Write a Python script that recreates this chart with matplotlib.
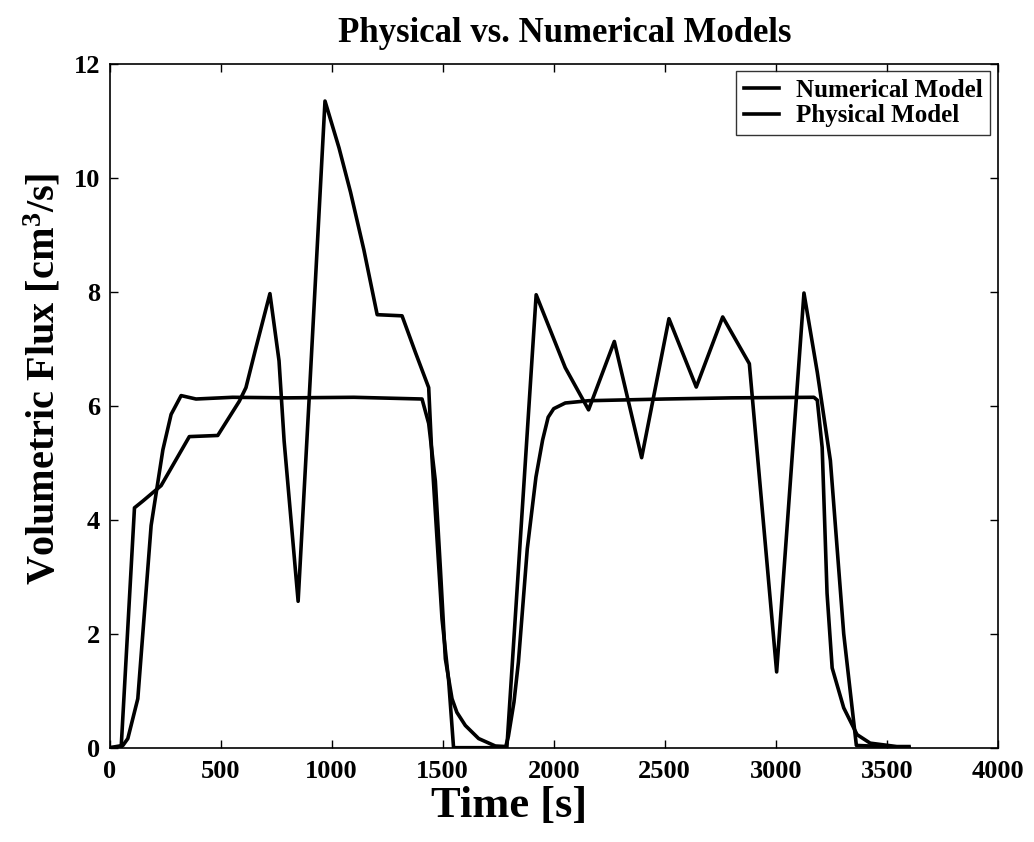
import matplotlib
matplotlib.use("Agg")
import matplotlib.pyplot as plt

plt.rcParams['font.family'] = ['Liberation Serif', 'DejaVu Serif']
plt.rcParams['font.weight'] = 'bold'
plt.rcParams['mathtext.fontset'] = 'custom'
plt.rcParams['mathtext.rm'] = 'Liberation Serif:bold'
plt.rcParams['mathtext.it'] = 'Liberation Serif:bold'
plt.rcParams['mathtext.bf'] = 'Liberation Serif:bold'

# Numerical model (smooth response)
t_num = [0, 60, 82, 127, 187, 240, 277, 322, 389, 554, 800, 1100, 1407, 1437, 1467,
         1490, 1512, 1542, 1564, 1602, 1662, 1737, 1784, 1796, 1821, 1841, 1881, 1920,
         1950, 1975, 2000, 2052, 2157, 2500, 2800, 3172, 3187, 3209, 3231, 3254, 3306,
         3366, 3425, 3545, 3600]
q_num = [0, 0.04, 0.16, 0.86, 3.9, 5.23, 5.85, 6.18, 6.12, 6.15, 6.14, 6.15, 6.12, 5.69,
         4.68, 3.12, 1.56, 0.86, 0.62, 0.39, 0.16, 0.03, 0.02, 0.2, 0.8, 1.5, 3.49,
         4.75, 5.4, 5.8, 5.95, 6.05, 6.09, 6.12, 6.14, 6.15, 6.1, 5.27, 2.71, 1.4,
         0.7, 0.23, 0.08, 0.02, 0.02]

# Physical model (measured)
t_phys = [0, 52, 112, 150, 232, 359, 487, 584, 614, 659, 722, 763, 786, 849, 898, 970,
          1033, 1085, 1145, 1205, 1317, 1377, 1437, 1452, 1497, 1527, 1549, 1789, 1921,
          2052, 2157, 2273, 2396, 2519, 2642, 2761, 2881, 3004, 3127, 3187, 3246, 3306,
          3363, 3600]
q_phys = [0, 0, 4.21, 4.33, 4.6, 5.46, 5.48, 6.08, 6.32, 7.02, 7.97, 6.79, 5.38, 2.57,
          6.08, 11.35, 10.53, 9.75, 8.74, 7.6, 7.58, 6.94, 6.32, 5.07, 2.26, 1.17, 0,
          0, 7.95, 6.67, 5.93, 7.13, 5.09, 7.53, 6.33, 7.56, 6.74, 1.33, 7.98, 6.59,
          5.04, 2.0, 0.04, 0]

fig = plt.figure(figsize=(10.34, 8.42), dpi=100)
ax = fig.add_axes([0.106, 0.112, 0.859, 0.812])

ax.plot(t_num, q_num, color='black', lw=2.6, label='Numerical Model')
ax.plot(t_phys, q_phys, color='black', lw=2.6, label='Physical Model')

ax.set_xlim(0, 4000)
ax.set_ylim(0, 12)
ax.set_xticks(range(0, 4001, 500))
ax.set_yticks(range(0, 13, 2))
ax.tick_params(direction='in', top=True, right=True, length=6, width=1,
               labelsize=19)
ax.tick_params(axis='x', pad=9)
ax.tick_params(axis='y', pad=7)
for lab in ax.get_xticklabels() + ax.get_yticklabels():
    lab.set_fontweight('bold')
for sp in ax.spines.values():
    sp.set_linewidth(1.2)

ax.set_title('Physical vs. Numerical Models', fontsize=25, fontweight='bold',
             x=0.512, pad=16)
ax.set_xlabel('Time [s]', fontsize=32, fontweight='bold')
ax.xaxis.set_label_coords(0.45, -0.056)
ax.set_ylabel('Volumetric Flux [cm$^3$/s]', fontsize=29, fontweight='bold')
ax.yaxis.set_label_coords(-0.052, 0.54)

leg = ax.legend(loc='upper right', fontsize=18, fancybox=False, edgecolor='black',
                handlelength=1.4, handletextpad=0.7, borderpad=0.3,
                labelspacing=0.1, borderaxespad=0.3)
leg.get_frame().set_linewidth(1.0)
for txt in leg.get_texts():
    txt.set_fontweight('bold')

fig.savefig('out.png', dpi=100)
